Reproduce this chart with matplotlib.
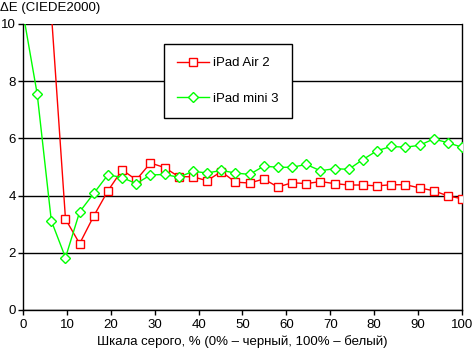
import numpy as np
import matplotlib
matplotlib.use('Agg')
import matplotlib.pyplot as plt

plt.rcParams['font.family'] = ['Liberation Sans', 'DejaVu Sans']

# gray levels, 32 steps from 0% to 100%
gray_pct = [i * 100 / 31 for i in range(32)]

air2 = [25, 18, 10.4, 3.18, 2.32, 3.29, 4.17, 4.9, 4.55, 5.14,
        4.98, 4.66, 4.66, 4.52, 4.84, 4.47, 4.44, 4.58, 4.30, 4.45,
        4.42, 4.49, 4.42, 4.37, 4.37, 4.34, 4.38, 4.38, 4.27, 4.17,
        3.99, 3.89]

mini3 = [10.4, 7.56, 3.12, 1.83, 3.43, 4.08, 4.73, 4.63, 4.42, 4.72,
         4.74, 4.64, 4.85, 4.79, 4.88, 4.79, 4.74, 5.03, 4.99, 4.99,
         5.09, 4.87, 4.94, 4.92, 5.26, 5.57, 5.72, 5.69, 5.76, 5.98,
         5.85, 5.69]

x_ticks = list(range(0, 101, 10))
y_ticks = [0, 2, 4, 6, 8, 10]


def main():
    fig = plt.figure(figsize=(4.72, 3.53), dpi=100)
    ax = fig.add_axes([23 / 472, 1 - 310 / 353, 439 / 472, 286 / 353])

    ax.plot(gray_pct, air2, color='#ff0000', lw=1, marker='s', ms=5.5,
            mfc='white', mec='#ff0000', mew=1, label='iPad Air 2', zorder=3)
    ax.plot(gray_pct, mini3, color='#00ff00', lw=1, marker='D', ms=4.7,
            mfc='white', mec='#00ff00', mew=1, label='iPad mini 3', zorder=3)

    ax.set_xlim(0, 100)
    ax.set_ylim(0, 10)
    ax.set_xticks(x_ticks)
    ax.set_yticks(y_ticks)
    ax.grid(axis='y', color='black', lw=1)
    ax.set_axisbelow(True)
    ax.tick_params(direction='out', length=3.6, width=1, labelsize=9.5, pad=1.5)
    ax.tick_params(axis='x', pad=3)
    for side in ['left', 'right', 'bottom']:
        ax.spines[side].set_linewidth(1)
    ax.spines['top'].set_visible(False)

    ax.set_xlabel('Шкала серого, % (0% – черный, 100% – белый)', fontsize=9.5, labelpad=3)
    fig.text(0.0, 1 - 8 / 353, 'ΔE (CIEDE2000)', fontsize=9.5, va='center', ha='left')

    leg = ax.legend(loc='upper left', bbox_to_anchor=(164 / 472, 1 - 44 / 353),
                    bbox_transform=fig.transFigure, fancybox=False, framealpha=1,
                    edgecolor='black', fontsize=9.5, labelspacing=1.75,
                    handlelength=2.4, borderpad=1.0, borderaxespad=0,
                    handletextpad=0.3)
    leg.get_frame().set_linewidth(1)
    leg.set_zorder(5)

    plt.savefig('out.png', dpi=100)


if __name__ == "__main__":
    main()
